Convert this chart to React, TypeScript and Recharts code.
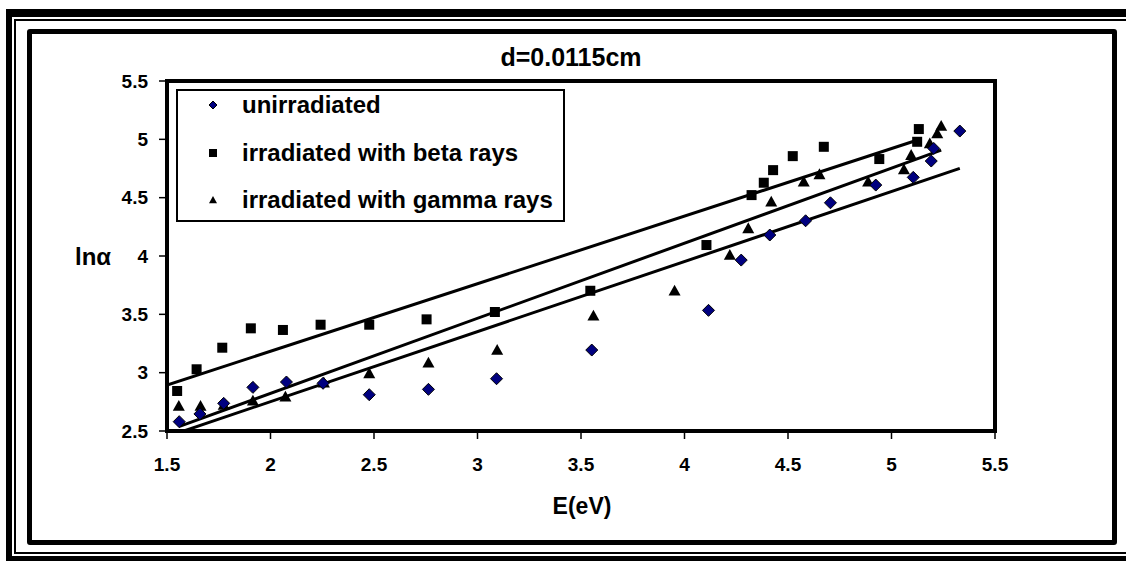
import React from 'react'
import { ScatterChart, Scatter, XAxis, YAxis, ReferenceArea, Legend } from 'recharts'

// photon energy (eV) and ln(alpha)
const unirradiatedE = [1.559, 1.659, 1.774, 1.915, 2.077, 2.254, 2.477, 2.763, 3.092, 3.552, 4.116, 4.274, 4.412, 4.585, 4.705, 4.924, 5.105, 5.192, 5.204, 5.33]
const unirradiatedLn = [2.58, 2.646, 2.737, 2.874, 2.92, 2.909, 2.811, 2.857, 2.948, 3.194, 3.534, 3.965, 4.18, 4.302, 4.456, 4.608, 4.674, 4.814, 4.922, 5.071]

const betaE = [1.549, 1.643, 1.767, 1.905, 2.06, 2.242, 2.477, 2.754, 3.084, 3.545, 4.106, 4.324, 4.383, 4.428, 4.523, 4.673, 4.941, 5.124, 5.132]
const betaLn = [2.843, 3.029, 3.214, 3.38, 3.366, 3.411, 3.411, 3.457, 3.52, 3.702, 4.094, 4.522, 4.628, 4.736, 4.856, 4.936, 4.831, 4.979, 5.088]

const gammaE = [1.557, 1.662, 1.774, 1.915, 2.072, 2.258, 2.477, 2.763, 3.095, 3.56, 3.952, 4.219, 4.308, 4.419, 4.576, 4.652, 4.887, 5.06, 5.095, 5.185, 5.221, 5.24]
const gammaLn = [2.714, 2.714, 2.723, 2.76, 2.794, 2.914, 2.994, 3.085, 3.194, 3.488, 3.702, 4.008, 4.237, 4.465, 4.636, 4.7, 4.636, 4.742, 4.865, 4.965, 5.051, 5.114]

// linear trend lines, end points
const unirradiatedFitE = [1.559, 5.33]
const unirradiatedFitLn = [2.487, 4.751]
const betaFitE = [1.5, 5.13]
const betaFitLn = [2.894, 4.996]
const gammaFitE = [1.557, 5.24]
const gammaFitLn = [2.537, 4.908]

const xTicks = [1.5, 2, 2.5, 3, 3.5, 4, 4.5, 5, 5.5]
const yTicks = [2.5, 3, 3.5, 4, 4.5, 5, 5.5]

const seriesNames = ['unirradiated', 'irradiated with beta rays', 'irradiated with gamma rays']

const zip = (xs: number[], ys: number[]) => xs.map((x, i) => ({ x, y: ys[i] }))

const FONT = '"Liberation Sans", Arial, sans-serif'

function Diamond({ cx, cy, r = 6 }: any) {
  if (cx == null || cy == null) return <g />
  return (
    <polygon
      points={`${cx},${cy - r} ${cx + r},${cy} ${cx},${cy + r} ${cx - r},${cy}`}
      fill="#000080"
      stroke="#000"
      strokeWidth={1}
    />
  )
}

function Square({ cx, cy, r = 5 }: any) {
  if (cx == null || cy == null) return <g />
  return <rect x={cx - r} y={cy - r} width={2 * r} height={2 * r} fill="#000" />
}

function Triangle({ cx, cy, r = 6 }: any) {
  if (cx == null || cy == null) return <g />
  return (
    <polygon
      points={`${cx},${cy - r} ${cx + r},${cy + r * 0.8} ${cx - r},${cy + r * 0.8}`}
      fill="#000"
    />
  )
}

const noDot = () => <g />

function LegendBox() {
  const shapes = [Diamond, Square, Triangle]
  return (
    <div
      style={{
        width: 389,
        height: 133,
        boxSizing: 'border-box',
        border: '2px solid #000',
        background: '#fff',
        fontFamily: FONT,
        fontWeight: 'bold',
        fontSize: 24,
        color: '#000',
      }}
    >
      {seriesNames.map((name, i) => {
        const Shape = shapes[i]
        return (
          <div key={name} style={{ position: 'absolute', left: 0, top: 16 + i * 47.5 - 15, height: 30, display: 'flex', alignItems: 'center' }}>
            <svg width={60} height={30} style={{ display: 'block' }}>
              <Shape cx={37} cy={15} r={4} />
            </svg>
            <span style={{ marginLeft: 6, lineHeight: '30px', whiteSpace: 'nowrap' }}>{name}</span>
          </div>
        )
      })}
    </div>
  )
}

export default function App() {
  return (
    <div style={{ position: 'fixed', left: 0, top: 0, width: 1126, height: 561, background: '#fff', overflow: 'hidden' }}>
      {/* double page frame */}
      <div style={{ position: 'absolute', left: 6, top: 9, right: -30, bottom: 0, borderStyle: 'solid', borderColor: '#000', borderWidth: '8px 0 5px 6px' }} />
      <div style={{ position: 'absolute', left: 14, top: 19, right: -30, bottom: 7, border: '2px solid #000' }} />
      {/* chart area frame */}
      <div style={{ position: 'absolute', left: 27, top: 29, width: 1090, height: 516, boxSizing: 'border-box', border: '5px solid #000', borderRadius: 3 }} />

      <div style={{ position: 'absolute', left: 371, top: 42, width: 400, textAlign: 'center', fontFamily: FONT, fontWeight: 'bold', fontSize: 25, lineHeight: '30px' }}>
        d=0.0115cm
      </div>
      <div style={{ position: 'absolute', left: 482, top: 491, width: 200, textAlign: 'center', fontFamily: FONT, fontWeight: 'bold', fontSize: 23, lineHeight: '30px' }}>
        E(eV)
      </div>
      <div style={{ position: 'absolute', left: 75, top: 242, fontFamily: FONT, fontWeight: 'bold', fontSize: 24, lineHeight: '30px' }}>
        lnα
      </div>

      <div style={{ position: 'absolute', left: 0, top: 0 }}>
        <ScatterChart width={1126} height={561} margin={{ top: 81, right: 131, bottom: 60, left: 107 }} style={{ fontFamily: FONT }}>
          <XAxis
            type="number"
            dataKey="x"
            domain={[1.5, 5.5]}
            ticks={xTicks}
            allowDataOverflow
            axisLine={false}
            tickLine={{ stroke: '#000', strokeWidth: 1.5 }}
            tickSize={8}
            tickMargin={19}
            height={70}
            tick={{ fill: '#000', fontSize: 19, fontWeight: 'bold' }}
          />
          <YAxis
            type="number"
            dataKey="y"
            domain={[2.5, 5.5]}
            ticks={yTicks}
            allowDataOverflow
            axisLine={false}
            tickLine={{ stroke: '#000', strokeWidth: 1.5 }}
            tickSize={8}
            tickMargin={11}
            width={60}
            tick={{ fill: '#000', fontSize: 19, fontWeight: 'bold' }}
          />
          <ReferenceArea x1={1.5} x2={5.5} y1={2.5} y2={5.5} fill="none" stroke="#000" strokeWidth={4} ifOverflow="visible" />
          <Legend
            layout="vertical"
            align="center"
            verticalAlign="middle"
            content={() => <LegendBox />}
            wrapperStyle={{ left: 176, top: 89, width: 389, height: 133 }}
          />
          <Scatter name="fit unirradiated" data={zip(unirradiatedFitE, unirradiatedFitLn)} line={{ stroke: '#000', strokeWidth: 3 }} shape={noDot} legendType="none" isAnimationActive={false} />
          <Scatter name="fit beta" data={zip(betaFitE, betaFitLn)} line={{ stroke: '#000', strokeWidth: 3 }} shape={noDot} legendType="none" isAnimationActive={false} />
          <Scatter name="fit gamma" data={zip(gammaFitE, gammaFitLn)} line={{ stroke: '#000', strokeWidth: 3 }} shape={noDot} legendType="none" isAnimationActive={false} />
          <Scatter name={seriesNames[1]} data={zip(betaE, betaLn)} shape={<Square />} isAnimationActive={false} />
          <Scatter name={seriesNames[2]} data={zip(gammaE, gammaLn)} shape={<Triangle />} isAnimationActive={false} />
          <Scatter name={seriesNames[0]} data={zip(unirradiatedE, unirradiatedLn)} shape={<Diamond />} isAnimationActive={false} />
        </ScatterChart>
      </div>
    </div>
  )
}
